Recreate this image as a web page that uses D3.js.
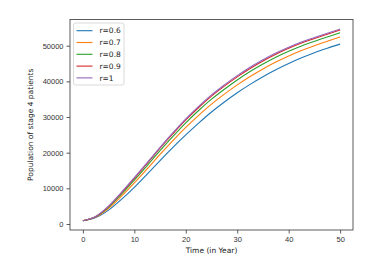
<!DOCTYPE html>
<html>
<head>
<meta charset="utf-8">
<script src="https://cdn.jsdelivr.net/npm/d3@7"></script>
<style>
  body { margin: 0; background: #fff; }
  svg { font-family: "DejaVu Sans", sans-serif; }
</style>
</head>
<body>
<svg id="chart" width="390" height="268"></svg>
<script>
// time points (years)
const years = [0, 2.5, 5, 7.5, 10, 12.5, 15, 17.5, 20, 22.5, 25, 27.5, 30, 32.5, 35, 37.5, 40, 42.5, 45, 47.5, 50];

// stage 4 population for each r
const r06 = [900, 1800, 3900, 6900, 10300, 14000, 17800, 21500, 25000, 28300, 31400, 34200, 36800, 39150, 41300, 43250, 45000, 46600, 48050, 49300, 50450];
const r07 = [900, 1940, 4410, 7820, 11540, 15470, 19500, 23390, 27070, 30460, 33610, 36410, 39010, 41360, 43490, 45410, 47120, 48650, 50000, 51230, 52430];
const r08 = [900, 2030, 4730, 8400, 12330, 16400, 20580, 24580, 28380, 31830, 35000, 37800, 40400, 42750, 44860, 46780, 48450, 49940, 51240, 52450, 53630];
const r09 = [900, 2080, 4920, 8760, 12810, 16980, 21240, 25310, 29190, 32670, 35860, 38660, 41260, 43610, 45720, 47620, 49280, 50740, 52000, 53210, 54390];
const r10 = [900, 2100, 5000, 8900, 13000, 17200, 21500, 25600, 29500, 33000, 36200, 39000, 41600, 43950, 46050, 47950, 49600, 51050, 52300, 53500, 54670];

const seriesNames = ["r=0.6", "r=0.7", "r=0.8", "r=0.9", "r=1"];
const seriesValues = [r06, r07, r08, r09, r10];
const colors = ["#1f77b4", "#ff7f0e", "#2ca02c", "#d62728", "#9467bd"];

const xTicks = [0, 10, 20, 30, 40, 50];
const yTicks = [0, 10000, 20000, 30000, 40000, 50000];

const box = { left: 70, top: 19.5, right: 353, bottom: 230 };
const svg = d3.select("#chart");

const x = d3.scaleLinear().domain([-2.5, 52.5]).range([box.left, box.right]);
const y = d3.scaleLinear().domain([-1683, 57350]).range([box.bottom, box.top]);

// Eixos
const xAxis = svg.append("g")
    .attr("transform", `translate(0,${box.bottom})`)
    .call(d3.axisBottom(x).tickValues(xTicks).tickSize(3.5).tickPadding(3).tickSizeOuter(0));
const yAxis = svg.append("g")
    .attr("transform", `translate(${box.left},0)`)
    .call(d3.axisLeft(y).tickValues(yTicks).tickSize(3.5).tickPadding(3).tickSizeOuter(0).tickFormat(d3.format("d")));

[xAxis, yAxis].forEach(g => {
    g.select(".domain").remove();
    g.selectAll(".tick line").attr("stroke", "#333").attr("stroke-width", 0.8);
    g.selectAll(".tick text").attr("fill", "#333").style("font-size", "7.5px");
});

// moldura
svg.append("rect")
    .attr("x", box.left).attr("y", box.top)
    .attr("width", box.right - box.left).attr("height", box.bottom - box.top)
    .attr("fill", "none").attr("stroke", "#333").attr("stroke-width", 0.8);

// linhas
const line = d3.line()
    .x((d, i) => x(years[i]))
    .y(d => y(d))
    .curve(d3.curveMonotoneX);

svg.selectAll(".series")
    .data(seriesValues)
    .enter().append("path")
    .attr("class", "series")
    .attr("d", d => line(d))
    .attr("fill", "none")
    .attr("stroke", (d, i) => colors[i])
    .attr("stroke-width", 1.1);

// rótulos
svg.append("text")
    .attr("x", (box.left + box.right) / 2)
    .attr("y", 253)
    .attr("text-anchor", "middle")
    .attr("fill", "#222")
    .style("font-size", "7.5px")
    .text("Time (in Year)");

svg.append("text")
    .attr("transform", `translate(33,${(box.top + box.bottom) / 2}) rotate(-90)`)
    .attr("text-anchor", "middle")
    .attr("fill", "#222")
    .style("font-size", "7.5px")
    .text("Population of stage 4 patients");

// legenda
const legend = svg.append("g").attr("transform", "translate(73.5,23)");
legend.append("rect")
    .attr("width", 50.5).attr("height", 62)
    .attr("rx", 2)
    .attr("fill", "#fff").attr("fill-opacity", 0.8)
    .attr("stroke", "#d0d0d0").attr("stroke-width", 0.8);

const items = legend.selectAll(".item")
    .data(seriesNames)
    .enter().append("g")
    .attr("class", "item")
    .attr("transform", (d, i) => `translate(0,${7.7 + i * 11.8})`);

items.append("line")
    .attr("x1", 3).attr("x2", 19)
    .attr("stroke", (d, i) => colors[i])
    .attr("stroke-width", 1.1);

items.append("text")
    .attr("x", 26)
    .attr("dy", "0.35em")
    .attr("fill", "#222")
    .style("font-size", "7.5px")
    .text(d => d);
</script>
</body>
</html>
